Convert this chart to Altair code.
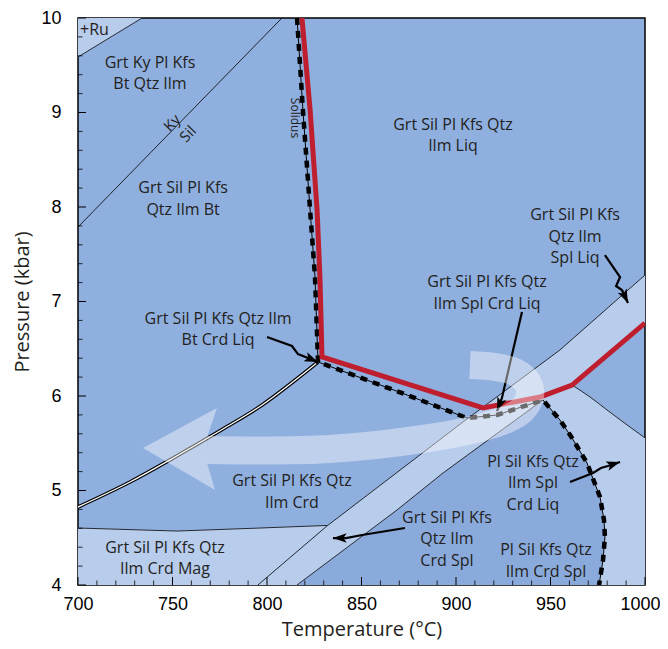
import altair as alt
import pandas as pd

# ---------------- data (temperature °C, pressure kbar) ----------------
x_ticks_major = [700, 750, 800, 850, 900, 950, 1000]
x_ticks_minor = [t for t in range(700, 1001, 10) if t % 50 != 0]
y_ticks_major = [4, 5, 6, 7, 8, 9, 10]
y_ticks_minor = [4.2, 4.4, 4.6, 4.8, 5.2, 5.4, 5.6, 5.8, 6.2, 6.4, 6.6, 6.8,
                 7.2, 7.4, 7.6, 7.8, 8.2, 8.4, 8.6, 8.8, 9.2, 9.4, 9.6, 9.8]

ru_T = [700, 700, 733.9]
ru_P = [10, 9.587, 10]

kysil_T = [700, 807.9]
kysil_P = [7.788, 10.0]

mag_line_T = [700, 752.4, 796.3, 831.7]
mag_line_P = [4.603, 4.571, 4.603, 4.63]

band_upper_T = [795.2, 831.7, 903.7, 955.0, 1000]
band_upper_P = [4.0, 4.624, 5.725, 6.487, 7.28]
band_lower_T = [815.9, 868.8, 893.1, 946.0]
band_lower_P = [4.0, 4.794, 5.185, 5.958]

curve_T = [961.4, 970.9, 979.9, 1000]
curve_P = [6.116, 5.99, 5.852, 5.556]

double_T = [700, 727.5, 751.3, 776.7, 797.4, 827.0]
double_P = [4.825, 5.090, 5.354, 5.651, 5.905, 6.360]

sol_upper_T = [815.9, 819.0, 822.8, 825.4, 827.0]
sol_upper_P = [10.0, 9.026, 7.968, 7.259, 6.360]
sol_mid_T = [874.1, 905.8, 921.7, 946.0]
sol_mid_P = [6.011, 5.767, 5.799, 5.958]
sol_lower_T = [955.0, 961.4, 969.3, 976.2, 978.3, 978.8, 977.8, 975.7]
sol_lower_P = [5.746, 5.556, 5.291, 4.931, 4.688, 4.508, 4.265, 4.0]

red_T = [818.5, 822.8, 826.5, 828.0, 829.1, 914.3, 944.4, 961.4, 1000]
red_P = [10.0, 9.026, 7.968, 7.259, 6.413, 5.873, 5.989, 6.116, 6.772]

swoosh_T = [907.4, 920.6, 931.2, 937.6, 939.2, 934.9, 925.9, 912.7, 886.2, 833.3, 768.3]
swoosh_P = [6.328, 6.307, 6.254, 6.148, 6.011, 5.852, 5.746, 5.661, 5.556, 5.439, 5.429]
swoosh_head_T = [734.4, 773.5, 768.3, 768.3, 772.5]
swoosh_head_P = [5.450, 5.873, 5.566, 5.291, 5.005]

arrows = {
    "a": ([800.0, 813.2, 816.4, 821.7, 827.0], [6.624, 6.529, 6.444, 6.402, 6.360]),
    "b": ([934.9, 929.6, 924.3, 921.7], [6.889, 6.434, 5.979, 5.841]),
    "c": ([978.8, 986.8, 984.7, 987.8, 991.0], [7.492, 7.259, 7.164, 7.122, 6.984]),
    "d": ([960.3, 972.5, 976.7, 980.4, 986.8], [5.090, 5.185, 5.238, 5.259, 5.302]),
    "e": ([873.0, 850.3, 841.8, 834.9], [4.603, 4.529, 4.497, 4.497]),
}
arrow_angles = {"a": 112, "b": 201, "c": 155, "d": 72, "e": 270}

# label anchor = centre of the first text line
label_T = [738.1, 755.6, 898.4, 963.0, 916.4, 774.1, 813.2, 746.0, 895.2, 940.7, 947.6]
label_P = [9.524, 8.201, 8.868, 7.915, 7.206, 6.815, 5.100, 4.392, 4.709, 5.302, 4.370]
label_text = [
    "Grt Ky Pl Kfs\nBt Qtz Ilm",
    "Grt Sil Pl Kfs\nQtz Ilm Bt",
    "Grt Sil Pl Kfs Qtz\nIlm Liq",
    "Grt Sil Pl Kfs\nQtz Ilm\nSpl Liq",
    "Grt Sil  Pl Kfs Qtz\nIlm Spl Crd Liq",
    "Grt Sil Pl Kfs Qtz Ilm\nBt Crd Liq",
    "Grt Sil Pl Kfs Qtz\nIlm Crd",
    "Grt Sil Pl Kfs Qtz\nIlm Crd Mag",
    "Grt Sil Pl Kfs\nQtz Ilm\nCrd Spl",
    "Pl Sil Kfs Qtz\nIlm Spl\nCrd Liq",
    "Pl Sil Kfs Qtz\nIlm Crd Spl",
]

# ---------------- styling ----------------
MAIN = "#8fafdf"
LIGHT = "#b8ccec"
DARK = "#8aaadc"
RED = "#be1e2d"
INK = "#231f20"
W, H = 567, 567

xs = alt.Scale(domain=[700, 1000], nice=False, zero=False)
ys = alt.Scale(domain=[4, 10], nice=False, zero=False)
x_axis = alt.Axis(values=x_ticks_major, ticks=False, tickSize=0, domain=False, grid=False,
                  labelFlush=False, labelOverlap=False,
                  labelOffset=alt.ExprRef("datum.value == 1000 ? -5 : 0"),
                  labelFont="Liberation Sans", labelFontSize=18, labelPadding=10, labelColor="black",
                  title="Temperature (°C)", titleFont="Open Sans", titleFontSize=20,
                  titleFontWeight="normal", titlePadding=6, titleColor=INK, format="d")
y_axis = alt.Axis(values=y_ticks_major, ticks=False, tickSize=0, domain=False, grid=False,
                  labelFlush=False, labelOverlap=False,
                  labelFont="Liberation Sans", labelFontSize=18, labelPadding=17, labelColor="black",
                  title="Pressure (kbar)", titleFont="Open Sans", titleFontSize=20,
                  titleFontWeight="normal", titlePadding=8, titleColor=INK, format="d")


def X():
    return alt.X("T:Q", scale=xs, axis=x_axis)


def Y():
    return alt.Y("P:Q", scale=ys, axis=y_axis)


def frame(T, P, **extra):
    d = {"T": T, "P": P, "i": list(range(len(T)))}
    d.update(extra)
    return pd.DataFrame(d)


def polygon(T, P, color):
    return alt.Chart(frame(T, P)).mark_line(
        interpolate="linear-closed", fill=color, stroke=color, strokeWidth=0.5, clip=True
    ).encode(x=X(), y=Y(), order="i:Q")


def line(T, P, color="black", width=0.8, interp="linear", **kw):
    return alt.Chart(frame(T, P)).mark_line(
        color=color, strokeWidth=width, interpolate=interp, clip=True, **kw
    ).encode(x=X(), y=Y(), order="i:Q")


# regions
band_T = band_upper_T + [1000, 961.4] + band_lower_T[::-1]
band_P = band_upper_P + [6.772, 6.116] + band_lower_P[::-1]
right_T = [946.0] + curve_T + [1000] + sol_lower_T[::-1]
right_P = [5.958] + curve_P + [4.0] + sol_lower_P[::-1]
pl_T = band_lower_T + sol_lower_T
pl_P = band_lower_P + sol_lower_P
mag_T = [700] + mag_line_T + [795.2]
mag_P = [4.0] + mag_line_P + [4.0]

layers = [
    polygon(pl_T, pl_P, DARK),
    polygon(ru_T, ru_P, LIGHT),
    polygon(mag_T, mag_P, LIGHT),
    polygon(band_T, band_P, LIGHT),
    polygon(right_T, right_P, LIGHT),
    line(ru_T[1:], ru_P[1:]),
    line(kysil_T, kysil_P),
    line(mag_line_T, mag_line_P),
    line(band_upper_T, band_upper_P),
    line(band_lower_T, band_lower_P),
    line(curve_T, curve_P, interp="monotone"),
    line(double_T, double_P, width=3.6, interp="catmull-rom"),
    line(double_T, double_P, color="white", width=1.3, interp="catmull-rom"),
]

sol_T = sol_upper_T + sol_mid_T + sol_lower_T
sol_P = sol_upper_P + sol_mid_P + sol_lower_P
layers.append(line(sol_T, sol_P, width=1))
layers.append(line(sol_T, sol_P, width=4.5, strokeDash=[7, 6]))
layers.append(line(red_T, red_P, color=RED, width=5, strokeJoin="miter"))

# label arrows
arr_rows = []
for k, (ts, ps) in arrows.items():
    for j, (t, p) in enumerate(zip(ts, ps)):
        arr_rows.append({"T": t, "P": p, "i": j, "id": k})
arr_df = pd.DataFrame(arr_rows)
layers.append(alt.Chart(arr_df).mark_line(color="black", strokeWidth=2.2, clip=True).encode(
    x=X(), y=Y(), detail="id:N", order="i:Q"))
head_df = pd.DataFrame({
    "T": [arrows[k][0][-1] for k in arrows],
    "P": [arrows[k][1][-1] for k in arrows],
    "ang": [arrow_angles[k] for k in arrows],
})
layers.append(alt.Chart(head_df).mark_point(
    shape="M0,0L0.6,1.7L0,1.3L-0.6,1.7Z", filled=True, color="black", size=260, opacity=1
).encode(x=X(), y=Y(), angle=alt.Angle("ang:Q", scale=None)))

# translucent P-T path swoosh
layers.append(line(swoosh_T, swoosh_P, color="white", width=28, interp="catmull-rom",
                   opacity=0.42, strokeCap="butt"))
layers.append(alt.Chart(frame(swoosh_head_T, swoosh_head_P)).mark_line(
    interpolate="linear-closed", fill="white", stroke="white", strokeWidth=0, fillOpacity=0.42,
    strokeOpacity=0, clip=True).encode(x=X(), y=Y(), order="i:Q"))

# texts
lab_df = pd.DataFrame({"T": label_T, "P": label_P, "text": label_text})
layers.append(alt.Chart(lab_df).mark_text(
    font="Open Sans", fontSize=16, lineHeight=21.5, lineBreak="\n", color=INK,
    align="center", baseline="middle").encode(x=X(), y=Y(), text="text:N"))
layers.append(alt.Chart(pd.DataFrame({"T": [701.1], "P": [9.873], "text": ["+Ru"]})).mark_text(
    font="Open Sans", fontSize=16, color=INK, align="left", baseline="middle"
).encode(x=X(), y=Y(), text="text:N"))
layers.append(alt.Chart(pd.DataFrame({"T": [749.8, 758.2], "P": [8.889, 8.772], "text": ["Ky", "Sil"]})).mark_text(
    font="Open Sans", fontSize=15, color=INK, align="center", baseline="middle", angle=314
).encode(x=X(), y=Y(), text="text:N"))
layers.append(alt.Chart(pd.DataFrame({"T": [814.8], "P": [8.942], "text": ["Solidus"]})).mark_text(
    font="Open Sans", fontSize=12, color=INK, align="center", baseline="middle", angle=90
).encode(x=X(), y=Y(), text="text:N"))

# inward ticks
layers.append(alt.Chart(pd.DataFrame({"T": x_ticks_major})).mark_rule(color="black", strokeWidth=1).encode(
    x=X(), y=alt.value(H), y2=alt.value(H - 8)))
layers.append(alt.Chart(pd.DataFrame({"T": x_ticks_minor})).mark_rule(color="black", strokeWidth=0.8).encode(
    x=X(), y=alt.value(H), y2=alt.value(H - 4.5)))
layers.append(alt.Chart(pd.DataFrame({"P": y_ticks_major})).mark_rule(color="black", strokeWidth=1).encode(
    y=Y(), x=alt.value(0), x2=alt.value(8)))
layers.append(alt.Chart(pd.DataFrame({"P": y_ticks_minor})).mark_rule(color="black", strokeWidth=0.8).encode(
    y=Y(), x=alt.value(0), x2=alt.value(4.5)))

chart = alt.layer(*layers).properties(
    width=W, height=H,
    autosize=alt.AutoSizeParams(type="none"),
    padding={"left": 70, "top": 10, "right": 15, "bottom": 56},
).configure_view(stroke="black", strokeWidth=1.5, fill=MAIN)

chart.save("out.html", embed_options={"renderer": "svg", "actions": False})
